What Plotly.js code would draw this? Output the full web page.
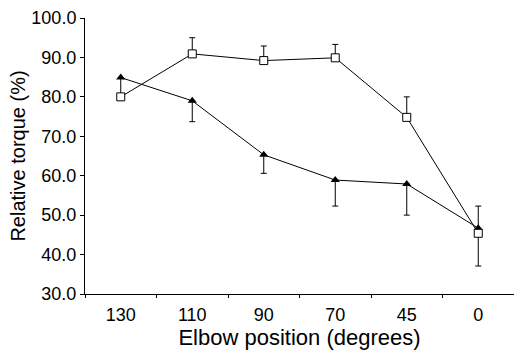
<!DOCTYPE html>
<html><head><meta charset="utf-8">
<script src="https://cdn.plot.ly/plotly-3.0.1.min.js"></script>
<style>html,body{margin:0;padding:0;background:#fff}#chart{width:514px;height:352px}</style>
</head><body><div id="chart"></div>
<script>
var categories = ["130", "110", "90", "70", "45", "0"];
var squareValues = [80.0, 90.9, 89.2, 89.9, 74.8, 45.4];
var squareErrUp = [0.5, 4.1, 3.7, 3.4, 5.2, 6.9];
var triangleValues = [84.9, 79.0, 65.3, 58.9, 57.9, 46.7];
var triangleErrDown = [5.7, 5.3, 4.7, 6.6, 7.9, 9.6];
var yTickVals = [30, 40, 50, 60, 70, 80, 90, 100];

var idx = categories.map(function(_, i){ return i; });
var zeros = categories.map(function(){ return 0; });

var triTrace = {
  x: idx, y: triangleValues, type: 'scatter', mode: 'lines+markers',
  line: {color: '#000', width: 1},
  marker: {symbol: 'triangle-up', size: 8, color: '#000'},
  error_y: {type: 'data', symmetric: false, array: zeros, arrayminus: triangleErrDown,
            color: '#000', thickness: 1, width: 3},
  cliponaxis: false, showlegend: false
};
var sqTrace = {
  x: idx, y: squareValues, type: 'scatter', mode: 'lines+markers',
  line: {color: '#000', width: 1},
  marker: {symbol: 'square', size: 8, color: '#fff', line: {width: 1, color: '#000'}},
  error_y: {type: 'data', symmetric: false, array: squareErrUp, arrayminus: zeros,
            color: '#000', thickness: 1, width: 3},
  cliponaxis: false, showlegend: false
};

var fam = 'Liberation Sans, Arial, sans-serif';
var layout = {
  width: 514, height: 352,
  margin: {l: 85, r: 0, t: 18, b: 58},
  paper_bgcolor: '#fff', plot_bgcolor: '#fff',
  font: {family: fam, color: '#000'},
  xaxis: {
    range: [-0.5, 5.5], tickmode: 'array', tickvals: idx, ticktext: categories,
    ticks: '', ticklabelstandoff: 4, showgrid: false, zeroline: false, showline: true, linecolor: '#000', linewidth: 1,
    tickfont: {family: fam, size: 18, color: '#000'},
    minor: {tick0: 0.5, dtick: 1, ticks: 'outside', ticklen: 3, tickcolor: '#000', showgrid: false},
    title: {text: 'Elbow position (degrees)', font: {family: fam, size: 22, color: '#000'}, standoff: 4}
  },
  yaxis: {
    range: [30, 100], tickmode: 'array', tickvals: yTickVals,
    ticktext: yTickVals.map(function(v){ return v.toFixed(1); }),
    ticks: 'outside', ticklen: 4, tickcolor: '#000',
    showgrid: false, zeroline: false, showline: true, linecolor: '#000', linewidth: 1,
    tickfont: {family: fam, size: 18, color: '#000'},
    title: {text: 'Relative torque (%)', font: {family: fam, size: 20, color: '#000'}, standoff: 0}
  }
};
Plotly.newPlot('chart', [triTrace, sqTrace], layout, {staticPlot: true, displayModeBar: false});
</script>
</body></html>
